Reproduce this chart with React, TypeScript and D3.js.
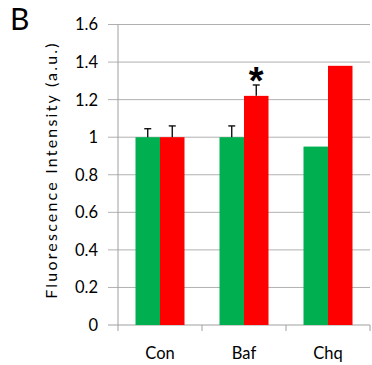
import { useEffect, useRef } from "react"
import * as d3 from "d3"

const categories = ["Con", "Baf", "Chq"]
const greenValues = [1.0, 1.0, 0.95]
const redValues = [1.0, 1.22, 1.38]
const greenErrors = [0.045, 0.06, 0]
const redErrors = [0.06, 0.058, 0]
const yTicks = [0, 0.2, 0.4, 0.6, 0.8, 1, 1.2, 1.4, 1.6]
const starred = [{ category: "Baf", series: "red" }]

export default function App() {
  const svgRef = useRef<SVGSVGElement>(null)

  useEffect(() => {
    if (!svgRef.current) return
    const svg = d3.select(svgRef.current)
    svg.selectAll("*").remove()

    const font = "Lato, 'Open Sans', sans-serif"
    const margin = { top: 24.5, left: 118, right: 2, bottom: 40 }
    const width = 372
    const height = 365
    const innerWidth = width - margin.left - margin.right
    const innerHeight = height - margin.top - margin.bottom

    const x = d3.scaleBand().domain(categories).range([0, innerWidth]).paddingInner(0).paddingOuter(0)
    const y = d3.scaleLinear().domain([0, 1.6]).range([innerHeight, 0])
    const barW = 24.5
    const groupOffset = (x.bandwidth() - barW * 2) / 2

    const g = svg.append("g").attr("transform", `translate(${margin.left}, ${margin.top})`)

    // gridlines
    g.selectAll("line.grid")
      .data(yTicks.filter((t) => t > 0))
      .join("line")
      .attr("x1", -10)
      .attr("x2", innerWidth)
      .attr("y1", (d) => y(d))
      .attr("y2", (d) => y(d))
      .attr("stroke", "#b0b0b0")
      .attr("stroke-width", 1)

    // y axis line
    g.append("line")
      .attr("x1", 0)
      .attr("x2", 0)
      .attr("y1", 0)
      .attr("y2", innerHeight)
      .attr("stroke", "#a0a0a0")

    // x axis line
    g.append("line")
      .attr("x1", -10)
      .attr("x2", innerWidth)
      .attr("y1", innerHeight)
      .attr("y2", innerHeight)
      .attr("stroke", "#a0a0a0")

    // x ticks at category boundaries
    const boundaries = categories.map((c) => x(c)!).concat([innerWidth])
    g.selectAll("line.xtick")
      .data(boundaries)
      .join("line")
      .attr("x1", (d) => d)
      .attr("x2", (d) => d)
      .attr("y1", innerHeight)
      .attr("y2", innerHeight + 6)
      .attr("stroke", "#a0a0a0")

    // y tick labels
    g.selectAll("text.ytick")
      .data(yTicks)
      .join("text")
      .attr("x", -20)
      .attr("y", (d) => y(d))
      .attr("dy", "0.36em")
      .attr("text-anchor", "end")
      .attr("font-family", font)
      .attr("font-size", 16.5)
      .attr("fill", "#000")
      .text((d) => (d === 0 || d === 1 ? String(d) : d.toFixed(1)))

    // bars
    const series = [
      { key: "green", values: greenValues, errors: greenErrors, color: "#00b050", off: 0 },
      { key: "red", values: redValues, errors: redErrors, color: "#ff0000", off: barW },
    ]
    series.forEach((s) => {
      g.selectAll(`rect.${s.key}`)
        .data(categories)
        .join("rect")
        .attr("x", (c) => x(c)! + groupOffset + s.off)
        .attr("y", (c, i) => y(s.values[i]))
        .attr("width", barW)
        .attr("height", (c, i) => innerHeight - y(s.values[i]))
        .attr("fill", s.color)

      // error bars (upper only)
      categories.forEach((c, i) => {
        if (!s.errors[i]) return
        const cx = x(c)! + groupOffset + s.off + barW / 2
        const top = y(s.values[i] + s.errors[i])
        g.append("line")
          .attr("x1", cx)
          .attr("x2", cx)
          .attr("y1", y(s.values[i]))
          .attr("y2", top)
          .attr("stroke", "#000")
          .attr("stroke-width", 1.3)
        g.append("line")
          .attr("x1", cx - 3.5)
          .attr("x2", cx + 3.5)
          .attr("y1", top)
          .attr("y2", top)
          .attr("stroke", "#000")
          .attr("stroke-width", 1.3)
      })
    })

    // significance stars
    starred.forEach((st) => {
      const s = series.find((d) => d.key === st.series)!
      const i = categories.indexOf(st.category)
      const cx = x(st.category)! + groupOffset + s.off + barW / 2
      g.append("text")
        .attr("x", cx)
        .attr("y", y(s.values[i] + s.errors[i]) + 9)
        .attr("text-anchor", "middle")
        .attr("font-family", "'Liberation Sans', Arial, sans-serif")
        .attr("font-weight", "bold")
        .attr("font-size", 38)
        .attr("fill", "#000")
        .text("*")
    })

    // category labels
    g.selectAll("text.xlabel")
      .data(categories)
      .join("text")
      .attr("x", (c) => x(c)! + x.bandwidth() / 2)
      .attr("y", innerHeight + 34)
      .attr("text-anchor", "middle")
      .attr("font-family", font)
      .attr("font-size", 16.5)
      .attr("fill", "#000")
      .text((c) => c)

    // y axis title
    svg.append("text")
      .attr("transform", `translate(57, 170) rotate(-90)`)
      .attr("text-anchor", "middle")
      .attr("font-family", font)
      .attr("font-size", 16)
      .attr("letter-spacing", 2.2)
      .attr("fill", "#000")
      .text("Fluorescence Intensity (a.u.)")

    // panel letter
    svg.append("text")
      .attr("x", 10)
      .attr("y", 30)
      .attr("font-family", font)
      .attr("font-size", 30)
      .attr("fill", "#000")
      .text("B")
  }, [])

  return (
    <svg
      ref={svgRef}
      width={372}
      height={365}
      style={{ position: "absolute", left: 0, top: 0, background: "#fff" }}
    />
  )
}
